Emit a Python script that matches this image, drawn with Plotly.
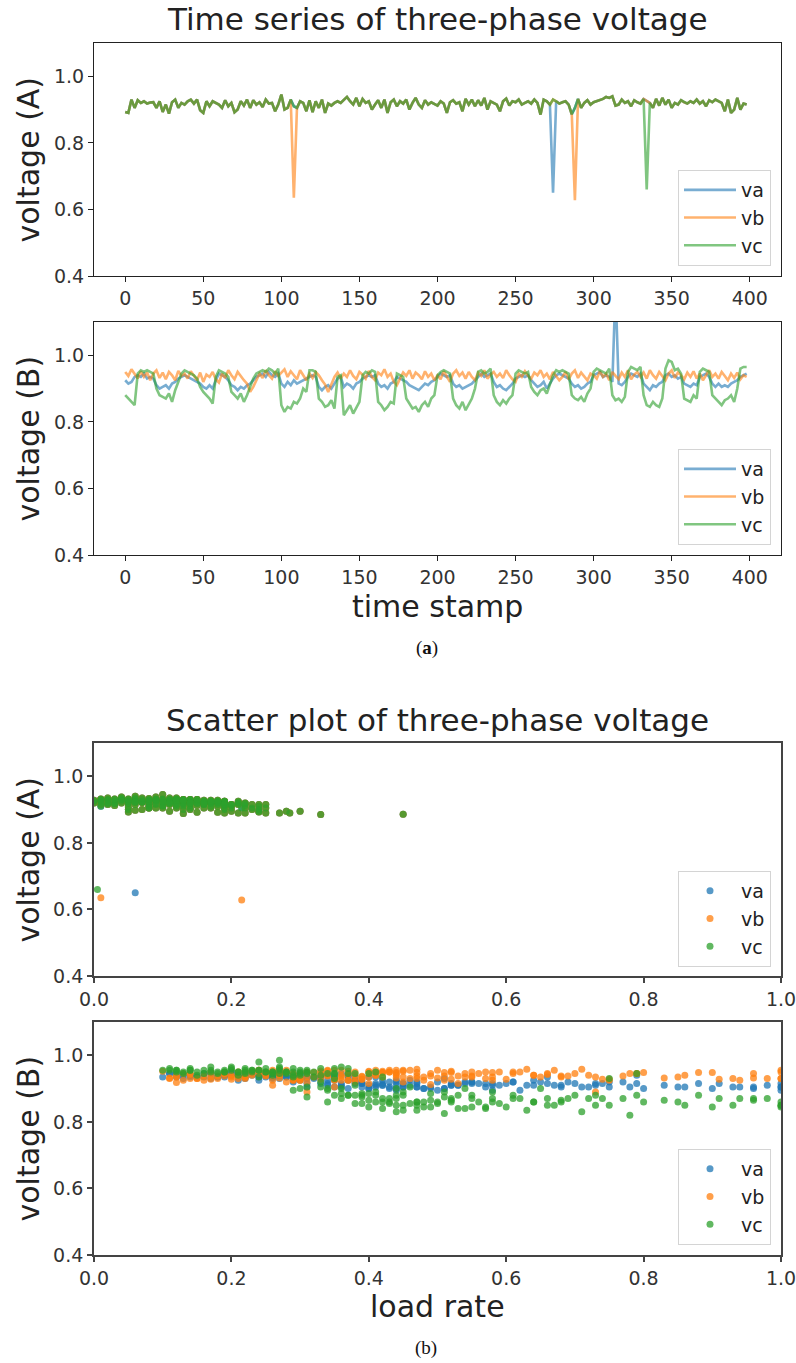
import plotly.graph_objects as go

# ---------------- data ----------------
time_stamp = list(range(0, 400, 2))

# panel (a) top: voltages of phase group A (the three phases overlap except for the dips)
vA_common = [
    0.893, 0.890, 0.930, 0.905, 0.928, 0.920, 0.925, 0.918, 0.921, 0.922,
    0.905, 0.925, 0.893, 0.915, 0.888, 0.922, 0.930, 0.905, 0.920, 0.915,
    0.925, 0.930, 0.918, 0.930, 0.898, 0.890, 0.925, 0.910, 0.925, 0.920,
    0.915, 0.905, 0.928, 0.910, 0.920, 0.892, 0.900, 0.925, 0.912, 0.930,
    0.905, 0.928, 0.915, 0.922, 0.908, 0.930, 0.918, 0.920, 0.895, 0.915,
    0.945, 0.900, 0.905, 0.930, 0.910, 0.905, 0.925, 0.920, 0.895, 0.928,
    0.892, 0.925, 0.905, 0.930, 0.890, 0.918, 0.912, 0.920, 0.925, 0.920,
    0.930, 0.938, 0.925, 0.915, 0.935, 0.910, 0.932, 0.920, 0.925, 0.900,
    0.915, 0.928, 0.905, 0.930, 0.890, 0.922, 0.930, 0.910, 0.925, 0.918,
    0.930, 0.900, 0.920, 0.935, 0.915, 0.905, 0.928, 0.915, 0.922, 0.918,
    0.912, 0.925, 0.918, 0.890, 0.922, 0.928, 0.918, 0.922, 0.895, 0.932,
    0.915, 0.930, 0.910, 0.928, 0.912, 0.935, 0.900, 0.925, 0.920, 0.915,
    0.895, 0.925, 0.933, 0.912, 0.925, 0.922, 0.930, 0.915, 0.920, 0.925,
    0.918, 0.930, 0.920, 0.885, 0.930, 0.925, 0.915, 0.930, 0.925, 0.918,
    0.922, 0.925, 0.915, 0.886, 0.905, 0.932, 0.905, 0.920, 0.928, 0.915,
    0.922, 0.925, 0.928, 0.932, 0.938, 0.935, 0.940, 0.912, 0.915, 0.930,
    0.920, 0.925, 0.910, 0.928, 0.922, 0.918, 0.932, 0.925, 0.920, 0.905,
    0.932, 0.912, 0.935, 0.915, 0.930, 0.905, 0.920, 0.915, 0.928, 0.922,
    0.918, 0.925, 0.920, 0.930, 0.918, 0.925, 0.910, 0.928, 0.922, 0.930,
    0.925, 0.920, 0.895, 0.930, 0.890, 0.900, 0.935, 0.900, 0.918, 0.915,
]
va_A = list(vA_common); va_A[137] = 0.650
vb_A = list(vA_common); vb_A[54] = 0.635; vb_A[144] = 0.628
vc_A = list(vA_common); vc_A[167] = 0.660

load_rate_A = [
    0.05, 0.19, 0.12, 0.23, 0.01, 0.16, 0.09, 0.03, 0.18, 0.07,
    0.08, 0.14, 0.24, 0.02, 0.13, 0.19, 0.04, 0.17, 0.00, 0.21,
    0.11, 0.02, 0.17, 0.13, 0.06, 0.21, 0.15, 0.10, 0.01, 0.13,
    0.06, 0.20, 0.08, 0.12, 0.18, 0.15, 0.24, 0.05, 0.22, 0.10,
    0.14, 0.17, 0.01, 0.11, 0.05, 0.14, 0.19, 0.08, 0.11, 0.16,
    0.10, 0.07, 0.22, 0.04, 0.01, 0.12, 0.18, 0.02, 0.20, 0.14,
    0.18, 0.06, 0.09, 0.11, 0.25, 0.15, 0.19, 0.12, 0.03, 0.17,
    0.07, 0.09, 0.16, 0.13, 0.02, 0.24, 0.12, 0.05, 0.19, 0.13,
    0.18, 0.00, 0.16, 0.06, 0.27, 0.14, 0.11, 0.08, 0.17, 0.21,
    0.14, 0.05, 0.10, 0.04, 0.23, 0.19, 0.16, 0.11, 0.07, 0.03,
    0.20, 0.12, 0.05, 0.285, 0.17, 0.09, 0.13, 0.21, 0.24, 0.01,
    0.09, 0.13, 0.17, 0.02, 0.14, 0.06, 0.19, 0.18, 0.15, 0.25,
    0.30, 0.00, 0.08, 0.03, 0.16, 0.10, 0.12, 0.19, 0.22, 0.07,
    0.12, 0.15, 0.04, 0.33, 0.03, 0.19, 0.08, 0.06, 0.11, 0.16,
    0.06, 0.17, 0.20, 0.45, 0.215, 0.05, 0.10, 0.14, 0.09, 0.12,
    0.19, 0.08, 0.13, 0.10, 0.04, 0.12, 0.06, 0.15, 0.24, 0.01,
    0.11, 0.05, 0.13, 0.18, 0.07, 0.22, 0.09, 0.005, 0.14, 0.08,
    0.03, 0.10, 0.11, 0.16, 0.08, 0.25, 0.01, 0.20, 0.12, 0.18,
    0.09, 0.21, 0.14, 0.05, 0.02, 0.10, 0.18, 0.13, 0.06, 0.15,
    0.04, 0.16, 0.28, 0.09, 0.22, 0.14, 0.07, 0.23, 0.11, 0.19,
]

# panel (a) bottom: voltages of phase group B
va_B = [
    0.925, 0.915, 0.920, 0.935, 0.940, 0.935, 0.945, 0.930, 0.935, 0.930,
    0.910, 0.900, 0.905, 0.910, 0.900, 0.915, 0.920, 0.930, 0.935, 0.940,
    0.935, 0.930, 0.925, 0.920, 0.915, 0.905, 0.900, 0.910, 0.900, 0.925,
    0.945, 0.940, 0.935, 0.925, 0.910, 0.905, 0.895, 0.905, 0.900, 0.910,
    0.915, 0.925, 0.935, 0.940, 0.945, 0.935, 0.950, 0.940, 0.935, 0.945,
    0.915, 0.905, 0.920, 0.910, 0.925, 0.915, 0.920, 0.925, 0.930, 0.935,
    0.940, 0.935, 0.905, 0.895, 0.905, 0.910, 0.900, 0.915, 0.930, 0.935,
    0.905, 0.915, 0.910, 0.900, 0.915, 0.920, 0.930, 0.935, 0.940, 0.935,
    0.940, 0.915, 0.905, 0.910, 0.900, 0.915, 0.920, 0.935, 0.930, 0.925,
    0.920, 0.910, 0.905, 0.900, 0.895, 0.905, 0.915, 0.910, 0.920, 0.925,
    0.935, 0.945, 0.940, 0.935, 0.940, 0.915, 0.905, 0.910, 0.900, 0.905,
    0.910, 0.915, 0.925, 0.935, 0.945, 0.935, 0.940, 0.945, 0.920, 0.905,
    0.910, 0.900, 0.895, 0.905, 0.915, 0.930, 0.935, 0.940, 0.935, 0.940,
    0.925, 0.915, 0.905, 0.910, 0.920, 0.900, 0.915, 0.930, 0.940, 0.945,
    0.940, 0.935, 0.930, 0.915, 0.905, 0.910, 0.900, 0.905, 0.915, 0.920,
    0.940, 0.945, 0.950, 0.935, 0.940, 0.935, 0.920, 1.200, 0.915, 0.910,
    0.920, 0.935, 0.945, 0.940, 0.935, 0.945, 0.915, 0.905, 0.895, 0.910,
    0.905, 0.915, 0.920, 0.940, 0.945, 0.935, 0.940, 0.930, 0.935, 0.915,
    0.910, 0.905, 0.915, 0.910, 0.935, 0.940, 0.945, 0.935, 0.915, 0.905,
    0.915, 0.905, 0.910, 0.905, 0.915, 0.920, 0.925, 0.935, 0.940, 0.945,
]
vb_B = [
    0.950, 0.938, 0.958, 0.942, 0.930, 0.952, 0.935, 0.948, 0.925, 0.945,
    0.955, 0.932, 0.948, 0.928, 0.950, 0.940, 0.925, 0.953, 0.938, 0.945,
    0.930, 0.952, 0.937, 0.925, 0.948, 0.920, 0.942, 0.935, 0.950, 0.928,
    0.918, 0.945, 0.932, 0.955, 0.940, 0.928, 0.950, 0.937, 0.925, 0.915,
    0.890, 0.905, 0.925, 0.945, 0.932, 0.955, 0.940, 0.930, 0.952, 0.938,
    0.948, 0.958, 0.935, 0.952, 0.940, 0.928, 0.955, 0.938, 0.925, 0.945,
    0.932, 0.950, 0.940, 0.925, 0.912, 0.890, 0.915, 0.935, 0.948, 0.930,
    0.945, 0.935, 0.955, 0.938, 0.928, 0.950, 0.942, 0.930, 0.953, 0.935,
    0.925, 0.948, 0.940, 0.958, 0.935, 0.945, 0.920, 0.910, 0.930, 0.948,
    0.938, 0.955, 0.930, 0.948, 0.940, 0.928, 0.952, 0.935, 0.945, 0.925,
    0.940, 0.928, 0.952, 0.935, 0.920, 0.945, 0.955, 0.938, 0.948, 0.930,
    0.950, 0.935, 0.925, 0.948, 0.938, 0.955, 0.930, 0.942, 0.950, 0.935,
    0.945, 0.932, 0.955, 0.940, 0.928, 0.920, 0.945, 0.935, 0.952, 0.938,
    0.930, 0.948, 0.940, 0.955, 0.935, 0.945, 0.928, 0.950, 0.938, 0.925,
    0.935, 0.950, 0.928, 0.945, 0.955, 0.932, 0.948, 0.938, 0.925, 0.945,
    0.940, 0.930, 0.952, 0.935, 0.945, 0.925, 0.950, 0.938, 0.928, 0.948,
    0.935, 0.955, 0.928, 0.942, 0.950, 0.935, 0.948, 0.930, 0.955, 0.940,
    0.930, 0.950, 0.938, 0.925, 0.945, 0.955, 0.932, 0.948, 0.940, 0.928,
    0.948, 0.935, 0.952, 0.930, 0.945, 0.925, 0.940, 0.955, 0.935, 0.945,
    0.930, 0.950, 0.938, 0.925, 0.945, 0.932, 0.948, 0.928, 0.940, 0.935,
]
vc_B = [
    0.880, 0.870, 0.860, 0.850, 0.945, 0.955, 0.950, 0.955, 0.950, 0.945,
    0.900, 0.880, 0.875, 0.870, 0.885, 0.860, 0.895, 0.920, 0.945, 0.955,
    0.950, 0.945, 0.940, 0.930, 0.905, 0.890, 0.880, 0.870, 0.855, 0.935,
    0.955, 0.950, 0.945, 0.935, 0.890, 0.880, 0.870, 0.885, 0.860, 0.880,
    0.905, 0.930, 0.945, 0.950, 0.955, 0.950, 0.960, 0.955, 0.945, 0.960,
    0.850, 0.830, 0.845, 0.840, 0.860, 0.855, 0.870, 0.900, 0.890, 0.955,
    0.955, 0.950, 0.870, 0.860, 0.845, 0.850, 0.865, 0.840, 0.935, 0.940,
    0.820, 0.835, 0.850, 0.825, 0.845, 0.860, 0.940, 0.950, 0.945, 0.955,
    0.950, 0.860, 0.850, 0.835, 0.845, 0.860, 0.855, 0.945, 0.940, 0.935,
    0.870, 0.855, 0.840, 0.845, 0.830, 0.850, 0.860, 0.845, 0.870, 0.880,
    0.940, 0.950, 0.955, 0.950, 0.945, 0.870, 0.850, 0.840, 0.860, 0.835,
    0.855, 0.870, 0.900, 0.950, 0.955, 0.945, 0.950, 0.960, 0.880, 0.860,
    0.850, 0.865, 0.855, 0.870, 0.880, 0.945, 0.955, 0.950, 0.945, 0.950,
    0.905, 0.890, 0.880, 0.895, 0.900, 0.885, 0.910, 0.940, 0.955, 0.950,
    0.955, 0.950, 0.945, 0.880, 0.870, 0.865, 0.875, 0.860, 0.885, 0.900,
    0.950, 0.960, 0.955, 0.950, 0.945, 0.960, 0.880, 0.865, 0.870, 0.860,
    0.875, 0.950, 0.965, 0.960, 0.955, 0.965, 0.880, 0.850, 0.845, 0.860,
    0.850, 0.845, 0.870, 0.960, 0.985, 0.980, 0.955, 0.960, 0.945, 0.870,
    0.865, 0.860, 0.880, 0.870, 0.950, 0.960, 0.955, 0.950, 0.880, 0.870,
    0.860, 0.850, 0.865, 0.870, 0.880, 0.860, 0.900, 0.960, 0.965, 0.965,
]
load_rate_B = [
    0.38, 0.55, 0.47, 0.66, 0.22, 0.10, 0.31, 0.17, 0.26, 0.13,
    0.36, 0.44, 0.31, 0.52, 0.40, 0.34, 0.29, 0.33, 0.18, 0.24,
    0.15, 0.27, 0.21, 0.75, 0.33, 0.45, 0.37, 0.58, 0.43, 0.29,
    0.12, 0.19, 0.30, 0.24, 0.41, 0.35, 0.62, 0.39, 0.48, 0.53,
    0.31, 0.35, 0.16, 0.23, 0.11, 0.28, 0.20, 0.14, 0.37, 0.25,
    0.47, 0.71, 0.55, 0.42, 0.64, 0.39, 0.44, 0.34, 0.51, 0.19,
    0.27, 0.21, 0.36, 0.58, 0.49, 0.73, 0.40, 0.54, 0.32, 0.15,
    0.78, 0.45, 0.67, 0.51, 0.60, 0.43, 0.29, 0.18, 0.34, 0.22,
    0.13, 0.41, 0.86, 0.63, 0.48, 0.56, 0.38, 0.26, 0.30, 0.42,
    0.69, 0.46, 0.57, 0.90, 0.44, 0.75, 0.52, 0.40, 0.61, 0.37,
    0.33, 0.17, 0.24, 0.12, 0.28, 0.66, 0.45, 0.53, 0.80, 0.47,
    0.59, 0.42, 0.30, 0.25, 0.16, 0.35, 0.21, 0.27, 0.55, 0.68,
    0.44, 0.96, 0.50, 0.72, 0.39, 0.31, 0.14, 0.22, 0.40, 0.19,
    0.46, 0.58, 0.41, 0.34, 0.65, 0.49, 0.38, 0.26, 0.12, 0.30,
    0.20, 0.28, 0.35, 0.70, 0.43, 0.83, 0.51, 0.47, 0.36, 0.54,
    0.25, 0.11, 0.23, 0.32, 0.79, 0.29, 0.61, 0.49, 0.74, 0.42,
    0.39, 0.26, 0.20, 0.14, 0.31, 0.17, 0.88, 0.93, 1.00, 0.64,
    1.00, 0.57, 0.77, 0.35, 0.27, 0.24, 0.30, 0.22, 0.38, 0.91,
    0.52, 0.85, 0.45, 0.98, 0.29, 0.37, 0.23, 0.41, 0.73, 0.96,
    1.00, 1.00, 0.68, 0.94, 0.79, 0.50, 0.44, 0.33, 0.27, 0.36,
]

phase_names = ["va", "vb", "vc"]
phase_colors = ["#1f77b4", "#ff7f0e", "#2ca02c"]
time_ticks = [0, 50, 100, 150, 200, 250, 300, 350, 400]
load_ticks = [0.0, 0.2, 0.4, 0.6, 0.8, 1.0]
volt_ticks = [0.4, 0.6, 0.8, 1.0]

# ---------------- layout helpers ----------------
W, H = 796, 1363
def px_x(p):
    return p / W
def px_y(p):
    return 1 - p / H

X_DOM = [px_x(94), px_x(781)]
panels = {  # top, bottom pixel rows of each plotting box
    1: (43, 276),
    2: (322, 555),
    3: (743, 976),
    4: (1022, 1255),
}

fig = go.Figure()

series_A = [va_A, vb_A, vc_A]
series_B = [va_B, vb_B, vc_B]

for k in range(3):
    fig.add_trace(go.Scatter(x=time_stamp, y=series_A[k], mode="lines", name=phase_names[k],
                             line=dict(color=phase_colors[k], width=2.6), opacity=0.6,
                             xaxis="x", yaxis="y", legend="legend"))
for k in range(3):
    fig.add_trace(go.Scatter(x=time_stamp, y=series_B[k], mode="lines", name=phase_names[k],
                             line=dict(color=phase_colors[k], width=2.6), opacity=0.6,
                             xaxis="x2", yaxis="y2", legend="legend2"))
for k in range(3):
    fig.add_trace(go.Scatter(x=load_rate_A, y=series_A[k], mode="markers", name=phase_names[k],
                             marker=dict(color=phase_colors[k], size=7, opacity=0.75, line=dict(width=0)),
                             xaxis="x3", yaxis="y3", legend="legend3"))
for k in range(3):
    fig.add_trace(go.Scatter(x=load_rate_B, y=series_B[k], mode="markers", name=phase_names[k],
                             marker=dict(color=phase_colors[k], size=7, opacity=0.75, line=dict(width=0)),
                             xaxis="x4", yaxis="y4", legend="legend4"))

tick_font = dict(family="DejaVu Sans", size=19, color="#333333")

def xaxis_cfg(i, rng, ticks, fmt, lc, lw):
    return dict(domain=X_DOM, anchor="y" if i == 1 else f"y{i}", range=rng, tickvals=ticks,
                tickformat=fmt, showgrid=False, zeroline=False, showline=True, mirror=True,
                linecolor=lc, linewidth=lw, ticks="outside", ticklen=5, tickwidth=lw,
                tickcolor=lc, tickfont=tick_font, fixedrange=True, automargin=False,
                ticklabeloverflow="allow")

def yaxis_cfg(i, lc, lw):
    top, bot = panels[i]
    return dict(domain=[px_y(bot), px_y(top)], anchor="x" if i == 1 else f"x{i}",
                range=[0.4, 1.1], tickvals=volt_ticks, tickformat=".1f", showgrid=False,
                zeroline=False, showline=True, mirror=True, linecolor=lc, linewidth=lw,
                ticks="outside", ticklen=5, tickwidth=lw, tickcolor=lc, tickfont=tick_font,
                fixedrange=True, automargin=False)

legend_base = dict(xanchor="right", x=px_x(771), yanchor="bottom", bgcolor="white",
                   bordercolor="#d4d4d4", borderwidth=1, itemwidth=52,
                   font=dict(family="DejaVu Sans", size=19, color="#222222"))

def legend_at(bottom_px):
    d = dict(legend_base)
    d["y"] = px_y(bottom_px)
    return d

label_font = dict(family="DejaVu Sans", size=30, color="#222222")
title_font = dict(family="DejaVu Sans", size=31, color="#222222")
cap_font = dict(family="Liberation Serif", size=19, color="#111111")

annotations = []
def ann(text, xp, yp, font, angle=0):
    annotations.append(dict(text=text, x=px_x(xp), y=px_y(yp), xref="paper", yref="paper",
                            showarrow=False, xanchor="center", yanchor="middle",
                            font=font, textangle=angle))

ann("Time series of three-phase voltage", 437.5, 19, title_font)
ann("voltage (A)", 28, (43 + 276) / 2, label_font, -90)
ann("voltage (B)", 28, (322 + 555) / 2, label_font, -90)
ann("time stamp", 437.5, 607, label_font)
ann("(<b>a</b>)", 427, 648, cap_font)
ann("Scatter plot of three-phase voltage", 437.5, 720, title_font)
ann("voltage (A)", 28, (743 + 976) / 2, label_font, -90)
ann("voltage (B)", 28, (1022 + 1255) / 2, label_font, -90)
ann("load rate", 437.5, 1306, label_font)
ann("(b)", 426, 1348, cap_font)

fig.update_layout(
    width=W, height=H, margin=dict(l=0, r=0, t=0, b=0, autoexpand=False),
    paper_bgcolor="white", plot_bgcolor="white",
    xaxis=xaxis_cfg(1, [-20, 420], time_ticks, None, "#222222", 1.2),
    yaxis=yaxis_cfg(1, "#222222", 1.2),
    xaxis2=xaxis_cfg(2, [-20, 420], time_ticks, None, "#222222", 1.2),
    yaxis2=yaxis_cfg(2, "#222222", 1.2),
    xaxis3=xaxis_cfg(3, [0, 1], load_ticks, ".1f", "#444444", 1.8),
    yaxis3=yaxis_cfg(3, "#444444", 1.8),
    xaxis4=xaxis_cfg(4, [0, 1], load_ticks, ".1f", "#444444", 1.8),
    yaxis4=yaxis_cfg(4, "#444444", 1.8),
    legend=legend_at(266),
    legend2=legend_at(545),
    legend3=legend_at(967),
    legend4=legend_at(1245),
    annotations=annotations,
    showlegend=True,
)

fig.write_html("out.html", config={"displayModeBar": False},
               post_script="document.body.style.margin='0';")
